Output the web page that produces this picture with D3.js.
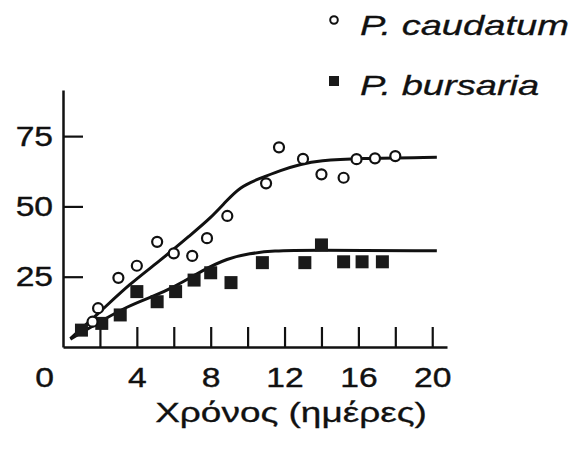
<!DOCTYPE html>
<html>
<head>
<meta charset="utf-8">
<script src="https://cdn.jsdelivr.net/npm/d3@7"></script>
<style>
  body { margin: 0; background: #fff; }
  text { font-family: "Liberation Sans", Arial, sans-serif; fill: #111; }
</style>
</head>
<body>
<svg id="chart" width="572" height="449"></svg>
<script>
// observed counts
const caudatumDays = [1.6, 1.9, 3.0, 4.0, 5.1, 6.0, 7.0, 7.8, 8.9, 11.0, 11.7, 13.0, 14.0, 15.2, 15.9, 16.9, 18.0]
const caudatumCount = [9.0, 13.8, 24.6, 28.9, 37.4, 33.3, 32.4, 38.7, 46.6, 58.2, 71.0, 66.9, 61.4, 60.2, 66.8, 67.1, 67.9]

const bursariaDays = [1.0, 2.1, 3.1, 4.0, 5.1, 6.1, 7.1, 8.0, 9.1, 10.8, 13.1, 14.0, 15.2, 16.2, 17.3]
const bursariaCount = [6.0, 8.4, 11.4, 19.7, 16.1, 19.7, 23.8, 26.4, 22.9, 30.0, 30.0, 36.3, 30.3, 30.3, 30.3]

// fitted curves
const caudatumFitDays = [0.4, 2.0, 3.6, 5.3, 6.9, 8.0, 8.8, 9.6, 10.6, 11.8, 12.9, 13.9, 15.9, 20.25]
const caudatumFit = [3.0, 12.4, 22.4, 30.9, 39.8, 45.9, 51.6, 57.0, 59.8, 62.9, 65.1, 66.3, 67.1, 67.5]
const bursariaFitDays = [0.4, 2.0, 3.5, 4.8, 6.0, 7.6, 8.9, 10.1, 11.4, 13.2, 20.25]
const bursariaFit = [2.8, 9.0, 14.5, 17.8, 21.2, 27.4, 31.5, 33.3, 34.2, 34.5, 34.2]

const xTicks = [0, 2, 4, 6, 8, 10, 12, 14, 16, 18, 20]
const xLabels = [0, 4, 8, 12, 16, 20]
const yTicks = [25, 50, 75]
const xTitle = 'Χρόνος (ημέρες)'
const seriesNames = ['P. caudatum', 'P. bursaria']

const svg = d3.select('#chart')

const x = d3.scaleLinear().domain([0, 20.8]).range([63, 447])
const y = d3.scaleLinear().domain([0, 91.4]).range([347, 90])

// stretch text horizontally, the original face is wider than Helvetica
function widen(sel, k) {
  sel.each(function () {
    const w = this.getComputedTextLength()
    d3.select(this).attr('textLength', w * k).attr('lengthAdjust', 'spacingAndGlyphs')
  })
}

// Axis X
const gx = svg.append('g')
  .attr('transform', `translate(0,${y(0)})`)
  .call(d3.axisBottom(x)
    .tickValues(xTicks)
    .tickSizeInner(-20)
    .tickSizeOuter(0)
    .tickPadding(20)
    .tickFormat(d => xLabels.includes(d) ? d : ''))
gx.select('.domain').attr('stroke', '#111').attr('stroke-width', 2.5)
gx.selectAll('.tick line').attr('stroke', '#111').attr('stroke-width', 2.2)
gx.selectAll('.tick').filter(d => d === 0).select('line').remove()
gx.selectAll('.tick text')
  .attr('font-size', 28)
  .attr('font-family', '"Liberation Sans", Arial, sans-serif')
  .attr('fill', '#111')
  .attr('stroke', '#111')
  .attr('stroke-width', 0.4)
  .attr('x', d => d === 0 ? -19 : 0)
gx.selectAll('.tick text').call(widen, 1.2)

// Axis Y
const gy = svg.append('g')
  .attr('transform', `translate(${x(0)},0)`)
  .call(d3.axisLeft(y)
    .tickValues(yTicks)
    .tickSizeInner(-20)
    .tickSizeOuter(0)
    .tickPadding(10))
gy.select('.domain').attr('stroke', '#111').attr('stroke-width', 2.5)
gy.selectAll('.tick line').attr('stroke', '#111').attr('stroke-width', 2.2)
gy.selectAll('.tick text')
  .attr('font-size', 28)
  .attr('font-family', '"Liberation Sans", Arial, sans-serif')
  .attr('fill', '#111')
  .attr('stroke', '#111')
  .attr('stroke-width', 0.4)
gy.selectAll('.tick text').call(widen, 1.2)

// Fitted curves
const line = d3.line()
  .x(d => x(d[0]))
  .y(d => y(d[1]))
  .curve(d3.curveBasis)

svg.append('path')
  .datum(d3.zip(caudatumFitDays, caudatumFit))
  .attr('d', line)
  .attr('fill', 'none')
  .attr('stroke', '#111')
  .attr('stroke-width', 3)

svg.append('path')
  .datum(d3.zip(bursariaFitDays, bursariaFit))
  .attr('d', line)
  .attr('fill', 'none')
  .attr('stroke', '#111')
  .attr('stroke-width', 3)

// Points
const sq = 13
svg.append('g')
  .selectAll('rect')
  .data(d3.zip(bursariaDays, bursariaCount))
  .join('rect')
  .attr('x', d => x(d[0]) - sq / 2)
  .attr('y', d => y(d[1]) - sq / 2)
  .attr('width', sq)
  .attr('height', sq)
  .attr('fill', '#1a1a1a')

svg.append('g')
  .selectAll('circle')
  .data(d3.zip(caudatumDays, caudatumCount))
  .join('circle')
  .attr('cx', d => x(d[0]))
  .attr('cy', d => y(d[1]))
  .attr('r', 5)
  .attr('fill', '#fff')
  .attr('stroke', '#111')
  .attr('stroke-width', 2.2)

// Axis title
const title = svg.append('text')
  .attr('x', 291)
  .attr('y', 422)
  .attr('text-anchor', 'middle')
  .attr('font-size', 28)
  .attr('stroke', '#111')
  .attr('stroke-width', 0.3)
  .text(xTitle)
title.call(widen, 1.32)

// Legend
const legend = svg.append('g')
legend.append('circle')
  .attr('cx', 334).attr('cy', 20).attr('r', 3.8)
  .attr('fill', '#fff').attr('stroke', '#111').attr('stroke-width', 2)
legend.append('rect')
  .attr('x', 329).attr('y', 76).attr('width', 10).attr('height', 10)
  .attr('fill', '#1a1a1a')

seriesNames.forEach((name, i) => {
  legend.append('text')
    .attr('x', 360)
    .attr('y', 35 + i * 60)
    .attr('font-size', 28)
    .attr('font-style', 'italic')
    .attr('stroke', '#111')
    .attr('stroke-width', 0.3)
    .text(name)
    .call(widen, 1.36)
})
</script>
</body>
</html>
